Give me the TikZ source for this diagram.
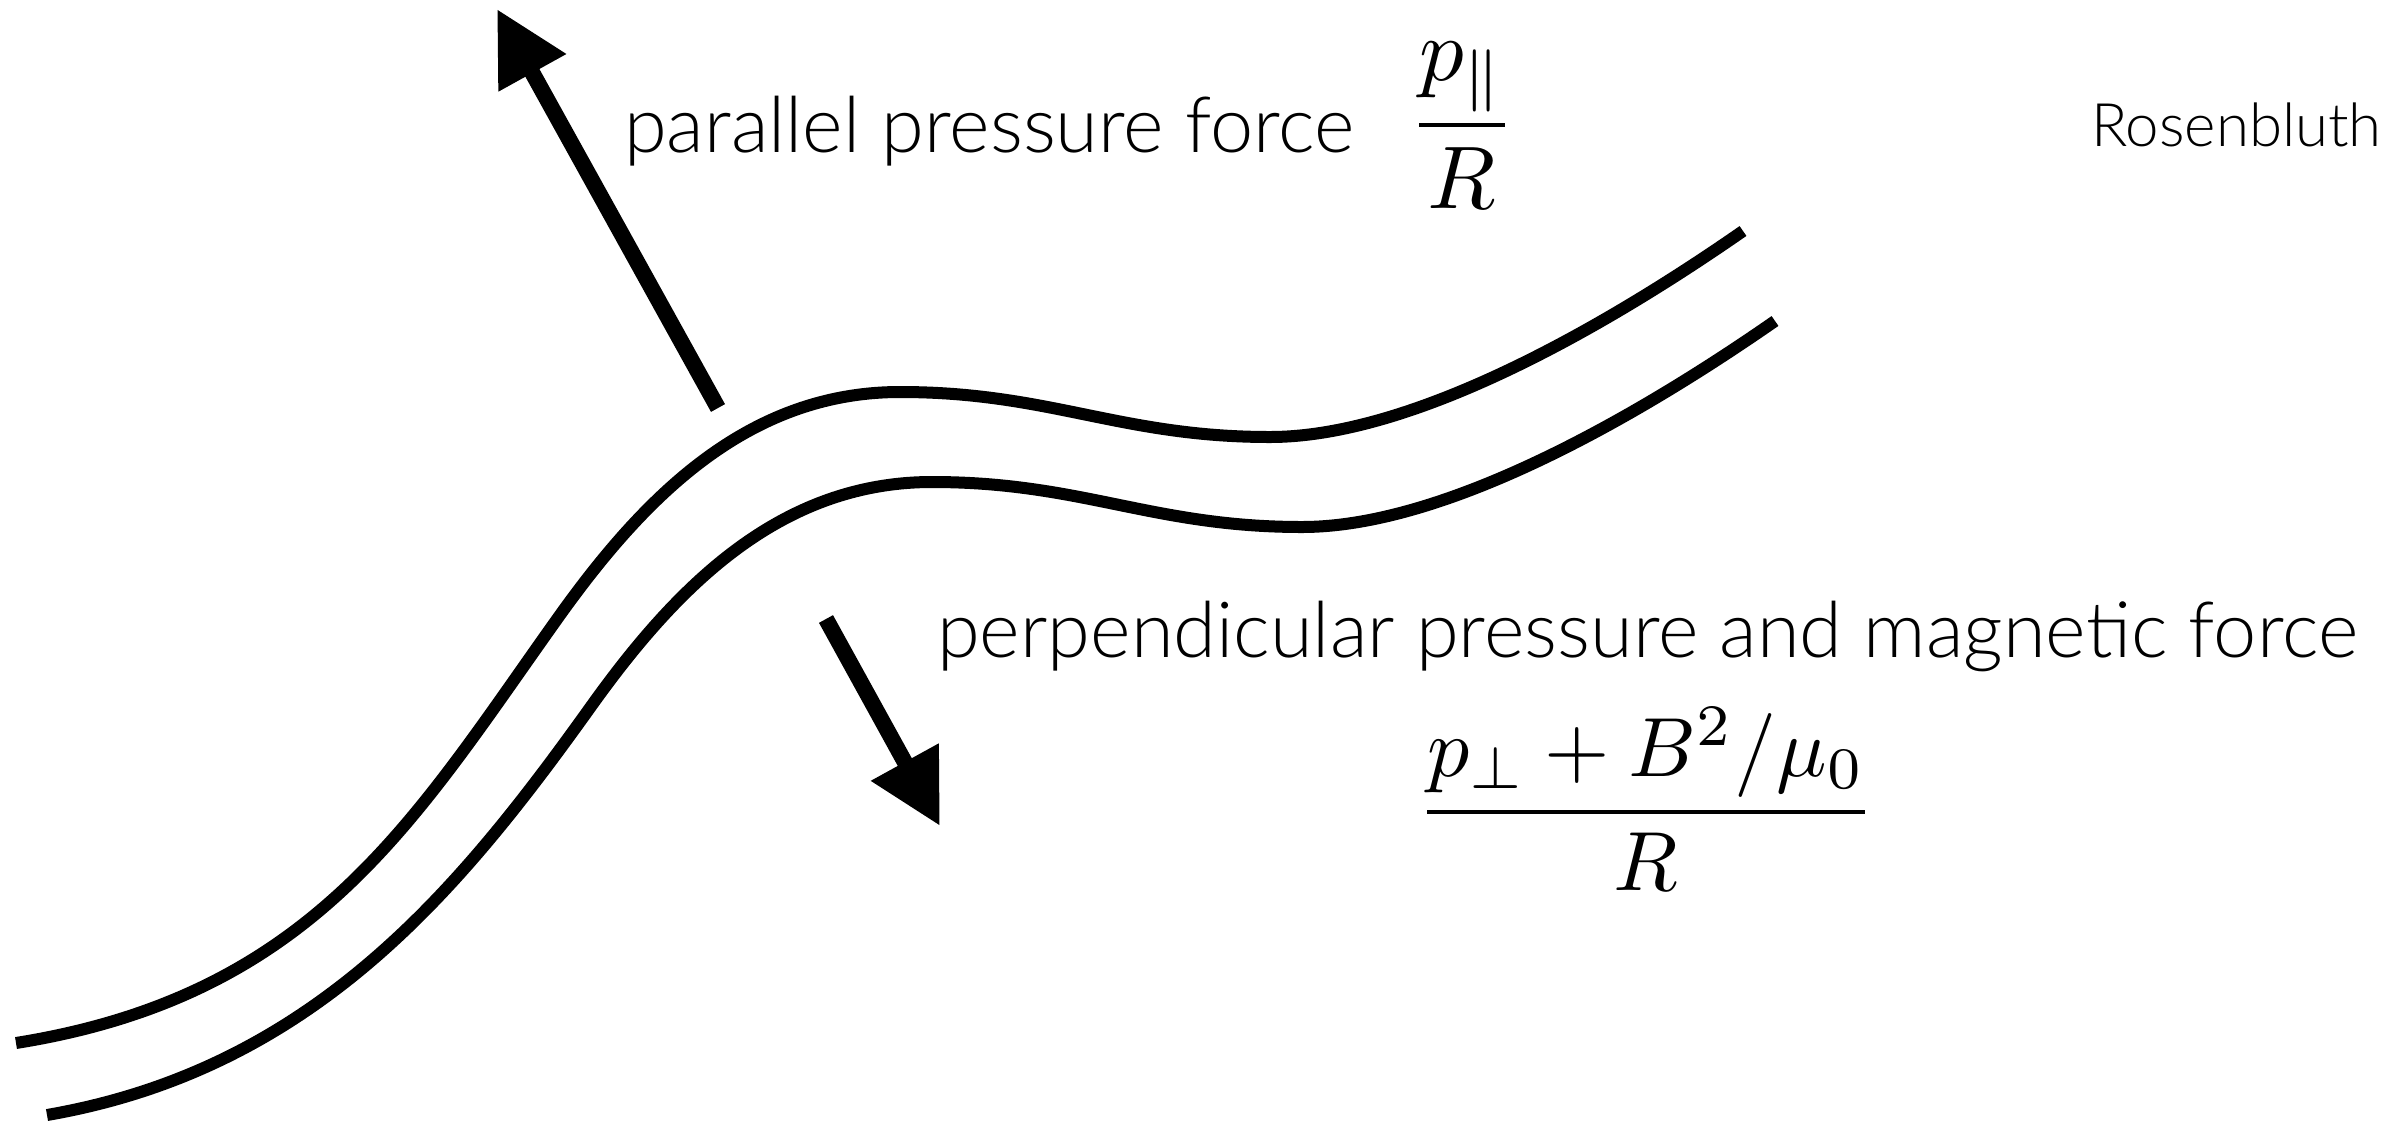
\documentclass[tikz,border=0pt]{standalone}
\usepackage{graphicx}
\usepackage[no-math]{fontspec}
\IfFontExistsTF{Lato Light}{\newfontfamily\labfont{Lato Light}}{\newfontfamily\labfont{Lato}}
\usetikzlibrary{arrows.meta}
\tikzset{
  fieldline/.style={line width=12pt, line cap=butt},
  force/.style={line width=16pt, -{Triangle[length=73pt,width=73pt]}},
  lab/.style={font=\labfont\fontsize{77.5}{92}\selectfont, inner sep=0pt, anchor=base west},
  frac/.style={inner sep=0pt, anchor=base},
}
\newcommand{\bigmath}[2]{\scalebox{#1}{$\displaystyle #2$}}
\begin{document}
\begin{tikzpicture}[x=1pt,y=-1pt]
\useasboundingbox (0,0) rectangle (2385,1128);
% field lines
\draw[fieldline] (16,1043) .. controls (316,995) and (415,818) .. (560,615)
  .. controls (647,493.5) and (750,392) .. (900,392)
  .. controls (1050,392) and (1120,437) .. (1270,437)
  .. controls (1420,437) and (1620,316.5) .. (1743,231);
\draw[fieldline] (47,1115) .. controls (313,1069) and (459,891) .. (592,705)
  .. controls (679,583.5) and (782,482) .. (932,482)
  .. controls (1082,482) and (1152,527) .. (1302,527)
  .. controls (1452,527) and (1652,406.5) .. (1775,321);
% force arrows
\coordinate (upTail) at (718,408);
\coordinate (upTip) at (497,9);
\coordinate (dnTail) at (826,619);
\coordinate (dnTip) at (940,826);
\draw[force] (upTail) -- (upTip);
\draw[force] (dnTail) -- (dnTip);
% labels
\node[lab] (parlab) at (624,152) {parallel pressure force};
\node[frac] (parfrac) at (1462,147) {\bigmath{8.9}{\frac{p_{\|}}{R}}};
\node[lab] (perplab) at (937,657) {perpendicular pressure and magnetic force};
\node[frac] (perpfrac) at (1646,833) {\bigmath{8.4}{\frac{p_\perp+B^2/\mu_0}{R}}};
\node[lab, font=\labfont\fontsize{60}{72}\selectfont] (author) at (2091,146) {Rosenbluth};
\end{tikzpicture}
\end{document}
